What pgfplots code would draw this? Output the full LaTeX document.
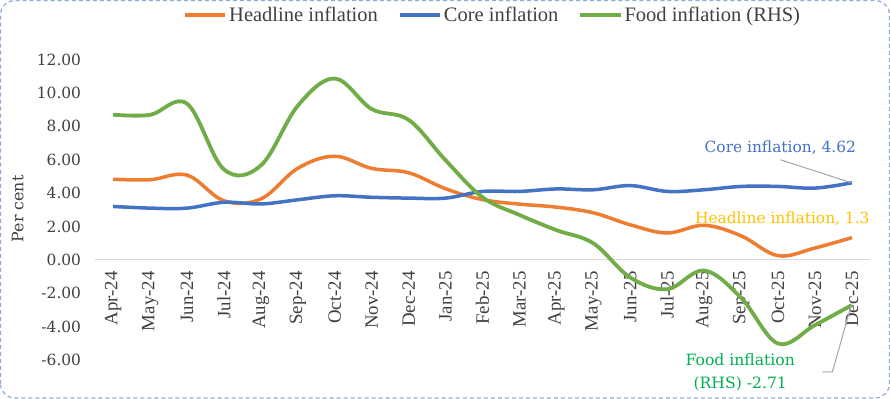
\documentclass[border=0pt]{standalone}
\usepackage{pgfplots}
\pgfplotsset{compat=1.18}
\usepackage{fontspec}
\setmainfont{Liberation Serif}
\newfontfamily\tickfont{DejaVu Serif}
\definecolor{hl}{HTML}{ED7D31}
\definecolor{core}{HTML}{4472C4}
\definecolor{food}{HTML}{70AD47}
\definecolor{bord}{HTML}{8FAADC}
\definecolor{axgray}{HTML}{D9D9D9}
\definecolor{labgray}{HTML}{404040}
\definecolor{leader}{HTML}{A6A6A6}
\definecolor{hltext}{HTML}{FFC000}
\definecolor{foodtext}{HTML}{00B050}

\pgfplotstableread{
i headline core food
0 4.83 3.20 8.70
1 4.80 3.10 8.69
2 5.08 3.10 9.36
3 3.54 3.45 5.42
4 3.65 3.35 5.66
5 5.49 3.60 9.24
6 6.21 3.84 10.87
7 5.48 3.75 9.04
8 5.22 3.70 8.39
9 4.26 3.70 5.97
10 3.61 4.10 3.75
11 3.34 4.10 2.69
12 3.16 4.25 1.78
13 2.82 4.20 0.99
14 2.10 4.45 -1.06
15 1.61 4.10 -1.76
16 2.07 4.20 -0.64
17 1.44 4.40 -2.28
18 0.25 4.40 -5.02
19 0.71 4.30 -3.91
20 1.33 4.62 -2.71
}\datatable

\begin{document}
\begin{tikzpicture}
\draw[draw=bord, dash pattern=on 4bp off 3bp, rounded corners=14bp, fill=white, line width=1.2bp] (1bp,1bp) rectangle (889bp,398bp);
\begin{axis}[
  at={(95bp,39bp)}, anchor=south west,
  scale only axis, width=775bp, height=300bp,
  xmin=-0.5, xmax=20.5, ymin=-6, ymax=12,
  axis x line=middle, axis y line=left,
  y axis line style={draw=none},
  x axis line style={draw=axgray, line width=1.2bp, -},
  xtick={0,...,20},
  xticklabels={Apr-24,May-24,Jun-24,Jul-24,Aug-24,Sep-24,Oct-24,Nov-24,Dec-24,Jan-25,Feb-25,Mar-25,Apr-25,May-25,Jun-25,Jul-25,Aug-25,Sep-25,Oct-25,Nov-25,Dec-25},
  x tick label style={rotate=90, anchor=east, font=\fontsize{18.8bp}{20bp}\selectfont, text=labgray, xshift=-6bp},
  major x tick style={draw=none},
  extra x ticks={-0.5,0.5,...,20.5},
  extra x tick labels={},
  extra x tick style={major tick length=10bp, tick style={draw=axgray, line width=1bp}},
  ytick={-6,-4,...,12},
  yticklabels={-6.00,-4.00,-2.00,0.00,2.00,4.00,6.00,8.00,10.00,12.00},
  y tick label style={font=\tickfont\fontsize{15.4bp}{18bp}\selectfont, text=labgray, anchor=east, xshift=-8bp},
  ytick style={draw=none},
  legend style={draw=none, fill=none, at={(0.513,1.15)}, anchor=center, legend columns=3,
    font=\fontsize{20.5bp}{22bp}\selectfont, text=labgray, inner sep=0pt,
    /tikz/every even column/.append style={column sep=18bp}},
  legend image code/.code={\draw[#1, line width=4bp] (0bp,0bp) -- (40bp,0bp);},
  clip=false,
]
\addplot[hl, line width=3.5bp, smooth, tension=0.6] table[x=i, y=headline] {\datatable};
\addlegendentry{Headline inflation}
\addplot[core, line width=3.5bp, smooth, tension=0.6] table[x=i, y=core] {\datatable};
\addlegendentry{Core inflation}
\addplot[food, line width=3.8bp, smooth, tension=0.6] table[x=i, y=food] {\datatable};
\addlegendentry{Food inflation (RHS)}
\end{axis}
\node[rotate=90, font=\tickfont\fontsize{15.8bp}{18bp}\selectfont, text=labgray] at (18bp,190bp) {Per cent};
\draw[leader, line width=1bp] (780bp,239bp) -- (851bp,216bp);
\node[font=\tickfont\fontsize{15.4bp}{18bp}\selectfont, text=core] at (780bp,251bp) {Core inflation, 4.62};
\node[font=\tickfont\fontsize{15.4bp}{18bp}\selectfont, text=hltext] at (782bp,180bp) {Headline inflation, 1.3};
\draw[leader, line width=1bp] (822bp,27bp) -- (832bp,27bp) -- (851bp,94bp);
\node[align=center, font=\tickfont\fontsize{15.6bp}{23bp}\selectfont, text=foodtext] at (740bp,27bp) {Food inflation\\(RHS) -2.71};
\end{tikzpicture}
\end{document}
